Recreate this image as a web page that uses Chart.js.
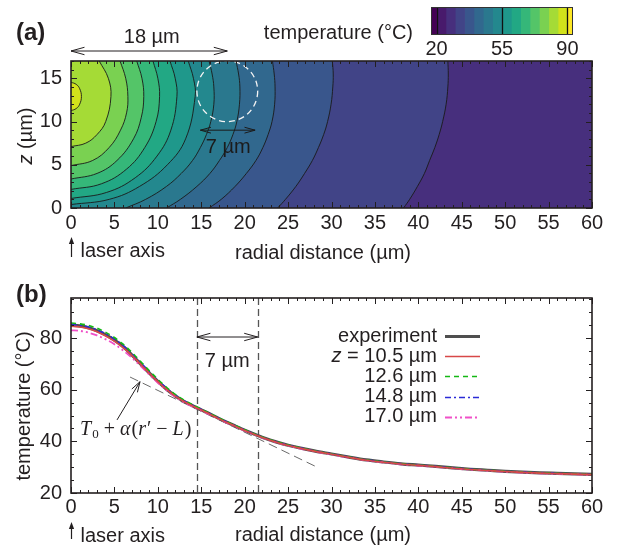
<!DOCTYPE html>
<html>
<head>
<meta charset="utf-8">
<script src="https://cdn.jsdelivr.net/npm/chart.js@4.4.1/dist/chart.umd.min.js"></script>
<style>
  html, body { margin: 0; padding: 0; background: #fff; }
  #wrap { position: relative; width: 621px; height: 552px; }
  canvas { position: absolute; }
  #mapChart  { left: 0; top: 0; }
  #lineChart { left: 0; top: 270px; }
  #barChart  { left: 420px; top: 0; }
</style>
</head>
<body>
<div id="wrap">
  <canvas id="mapChart" width="621" height="270"></canvas>
  <canvas id="lineChart" width="621" height="282"></canvas>
  <canvas id="barChart" width="200" height="62"></canvas>
</div>
<script>
// ── (a) isotherms, [r, z] in µm ────────────────────────────────────────────────
const iso30 = [[38.3,0],[39.0,1],[39.9,2.5],[40.7,4],[41.3,5.5],[41.9,7],[42.4,8.5],[42.8,10],[43.2,12],[43.4,14],[43.45,15.5],[43.4,17]];
const iso35 = [[23.8,0],[24.7,1],[25.9,2.5],[26.9,4],[27.8,5.5],[28.5,7],[29.1,8.5],[29.55,10],[29.95,12],[30.15,14],[30.2,15.5],[30.1,17]];
const iso40 = [[15.9,0],[17.3,1],[18.9,2.5],[20.2,4],[21.3,5.5],[22.1,7],[22.7,8.5],[23.15,10],[23.45,12],[23.5,14],[23.4,15.5],[23.2,17]];
const iso45 = [[11.0,0],[12.6,1],[14.5,2.5],[16.0,4],[17.1,5.5],[18.0,7],[18.65,8.5],[19.1,10],[19.4,12],[19.45,14],[19.3,15.5],[19.0,17]];
const iso50 = [[6.3,0],[8.6,1],[11.0,2.5],[12.7,4],[14.0,5.5],[14.9,7],[15.6,8.5],[16.1,10],[16.45,12],[16.45,14],[16.25,15.5],[15.9,17]];
const iso55 = [[0,0.4],[4.4,1],[7.9,2.5],[11.1,5],[13.2,8],[14.3,12.9],[14.1,15],[13.5,17]];
const iso60 = [[0,1.1],[4.1,1.8],[7.4,3.5],[9.9,6],[11.5,9],[12.2,12.9],[12.0,15],[11.4,17]];
const iso65 = [[0,2.15],[3.5,2.8],[6.4,4.5],[8.5,7],[9.8,10],[10.2,12.9],[10.0,15],[9.44,17]];
const iso70 = [[0,3.35],[3.0,4],[5.3,5.5],[7.2,8],[8.1,10.5],[8.38,12.9],[8.17,15],[7.57,17]];
const iso75 = [[0,4.9],[2.5,5.5],[4.4,7],[5.7,9],[6.4,11],[6.55,12.9],[6.3,15],[5.65,17]];
const iso80 = [[0,7.1],[1.7,7.5],[3.0,8.5],[4.0,10],[4.6,12.9],[4.3,15],[3.25,17]];
const iso85 = [[0,11.25],[0.6,11.5],[1.0,12.0],[1.2,12.9],[1.0,13.8],[0.6,14.3],[0,14.55]];
const isoLevels = [30, 35, 40, 45, 50, 55, 60, 65, 70, 75, 80, 85];
const isoLines  = [iso30, iso35, iso40, iso45, iso50, iso55, iso60, iso65, iso70, iso75, iso80, iso85];
const coolestLevel = 25;

// colour bar: 5 °C bands
const bandLows   = [17, 20, 25, 30, 35, 40, 45, 50, 55, 60, 65, 70, 75, 80, 85, 90];
const bandHighs  = [20, 25, 30, 35, 40, 45, 50, 55, 60, 65, 70, 75, 80, 85, 90, 93];
const bandColors = ['#440154','#481a6c','#472f7d','#414487','#39568c','#31688e','#2a788e','#23888e',
                    '#1f988b','#22a884','#35b779','#54c568','#7ad151','#a5db36','#d2e21b','#fde725'];
const colorbarTicks = [20, 55, 90];

// ── (b) radial temperature profiles ───────────────────────────────────────────
const radial = [0,1,2,3,4,5,6,7,8,9,10,11,12,13,14,15,16,17,18,19,20,21,22,23,24,25,26,
                28,30,32,34,36,38,40,42,44,46,48,50,52,54,56,58,60];
const tExperiment = [85.0,84.7,84.0,82.8,81.2,79.2,76.7,73.5,70.0,66.5,63.2,60.2,57.6,55.5,53.8,52.2,50.6,48.9,47.3,45.8,
                     44.3,42.9,41.6,40.4,39.4,38.5,37.7,36.3,35.1,33.9,32.8,32.0,31.3,30.8,30.3,29.7,29.2,28.8,28.4,28.1,27.8,27.6,27.4,27.2];
const tZ105 = [84.6,84.3,83.6,82.4,80.8,78.8,76.3,73.3,69.9,66.4,63.1,60.1,57.5,55.4,53.7,52.1,50.5,48.8,47.2,45.7,
               44.2,42.8,41.5,40.3,39.3,38.4,37.6,36.2,35.0,33.8,32.7,31.9,31.2,30.7,30.2,29.6,29.1,28.7,28.3,28.0,27.7,27.5,27.3,27.1];
const tZ126 = [85.8,85.5,84.9,83.8,82.2,80.2,77.6,74.5,71.0,67.4,64.0,60.9,58.2,56.0,54.2,52.5,50.8,49.1,47.5,46.0,
               44.5,43.0,41.7,40.5,39.5,38.6,37.8,36.3,35.1,33.9,32.8,32.0,31.3,30.8,30.3,29.7,29.2,28.8,28.4,28.1,27.8,27.6,27.4,27.2];
const tZ148 = [85.2,84.9,84.3,83.2,81.6,79.6,77.1,74.0,70.5,67.0,63.6,60.6,57.9,55.7,53.9,52.3,50.7,49.0,47.4,45.9,
               44.4,43.0,41.6,40.4,39.4,38.5,37.7,36.3,35.1,33.9,32.8,32.0,31.3,30.8,30.3,29.7,29.2,28.8,28.4,28.1,27.8,27.6,27.4,27.2];
const tZ170 = [83.0,82.8,82.1,81.0,79.5,77.6,75.2,72.4,69.2,65.9,62.7,59.8,57.2,55.1,53.4,51.9,50.3,48.7,47.1,45.6,
               44.1,42.7,41.4,40.2,39.2,38.3,37.5,36.1,34.9,33.7,32.6,31.8,31.1,30.6,30.1,29.5,29.0,28.6,28.2,27.9,27.6,27.4,27.2,27.0];
const legendLabels = ['experiment', 'z = 10.5 µm', '12.6 µm', '14.8 µm', '17.0 µm'];
const fitR = [6.8, 28.1];          // linear fit T0 + α(r' − L)
const fitT = [64.9, 30.4];
const markerR = [14.5, 21.5];      // 7 µm window

// ── helpers ───────────────────────────────────────────────────────────────────
const INK   = '#231f20';
const SANS  = '"Liberation Sans", Arial, Helvetica, sans-serif';
const SERIF = '"Liberation Serif", "DejaVu Serif", serif';
const TXT   = `20px ${SANS}`;

function bandColor(level) { return bandColors[bandLows.indexOf(level)]; }
function pts(r, v) { return r.map((x, i) => ({ x, y: v[i] })); }

function say(ctx, str, x, y, font = TXT, align = 'left', color = INK) {
  ctx.save();
  ctx.font = font; ctx.fillStyle = color;
  ctx.textAlign = align; ctx.textBaseline = 'middle';
  ctx.fillText(str, x, y);
  ctx.restore();
}

function openHead(ctx, x, y, angle, len = 13, spread = 0.27) {
  ctx.beginPath();
  ctx.moveTo(x - len * Math.cos(angle - spread), y - len * Math.sin(angle - spread));
  ctx.lineTo(x, y);
  ctx.lineTo(x - len * Math.cos(angle + spread), y - len * Math.sin(angle + spread));
  ctx.stroke();
}

function doubleArrow(ctx, x1, x2, y, len, color = INK) {
  ctx.save();
  ctx.strokeStyle = color; ctx.lineWidth = 1;
  ctx.beginPath(); ctx.moveTo(x1, y); ctx.lineTo(x2, y); ctx.stroke();
  openHead(ctx, x2, y, 0, len);
  openHead(ctx, x1, y, Math.PI, len);
  ctx.restore();
}

function verticalTitle(ctx, parts, cx, cy) {
  ctx.save();
  ctx.translate(cx, cy); ctx.rotate(-Math.PI / 2);
  ctx.fillStyle = INK; ctx.textBaseline = 'middle'; ctx.textAlign = 'left';
  let total = 0;
  parts.forEach(p => { ctx.font = p[1]; total += ctx.measureText(p[0]).width; });
  let x = -total / 2;
  parts.forEach(p => { ctx.font = p[1]; ctx.fillText(p[0], x, 0); x += ctx.measureText(p[0]).width; });
  ctx.restore();
}

function laserAxis(chart, yTip, yBase, textY) {
  const { ctx, scales: { x } } = chart;
  const px = Math.round(x.getPixelForValue(0)) + 0.5;
  ctx.save();
  ctx.strokeStyle = INK; ctx.fillStyle = INK; ctx.lineWidth = 1.2;
  ctx.beginPath(); ctx.moveTo(px, yBase); ctx.lineTo(px, yTip + 5); ctx.stroke();
  ctx.beginPath(); ctx.moveTo(px, yTip); ctx.lineTo(px - 2.6, yTip + 7); ctx.lineTo(px + 2.6, yTip + 7);
  ctx.closePath(); ctx.fill();
  ctx.restore();
  say(ctx, 'laser axis', px + 9, textY);
}

function isMajor(v, step) { return Math.abs(v / step - Math.round(v / step)) < 1e-6; }

// inward ticks on all four sides, then the frame
function frameAndTicks(chart, xMinor, xMajor, yMinor, yMajor) {
  const { ctx, chartArea: a, scales: { x, y } } = chart;
  ctx.save();
  ctx.strokeStyle = INK; ctx.lineWidth = 1;
  ctx.beginPath();
  for (let v = x.min; v <= x.max + 1e-6; v += xMinor) {
    const px = Math.round(x.getPixelForValue(v)) + 0.5;
    const len = isMajor(v, xMajor) ? 6 : 3;
    ctx.moveTo(px, a.bottom); ctx.lineTo(px, a.bottom - len);
    ctx.moveTo(px, a.top);    ctx.lineTo(px, a.top + len);
  }
  for (let v = y.min; v <= y.max + 1e-6; v += yMinor) {
    const py = Math.round(y.getPixelForValue(v)) + 0.5;
    const len = isMajor(v, yMajor) ? 6 : 3;
    ctx.moveTo(a.left, py);  ctx.lineTo(a.left + len, py);
    ctx.moveTo(a.right, py); ctx.lineTo(a.right - len, py);
  }
  ctx.stroke();
  ctx.lineWidth = 1.6;
  ctx.strokeRect(a.left, a.top, a.width, a.height);
  ctx.restore();
}

Chart.defaults.font.family = SANS;
Chart.defaults.color = INK;

const tickFont = { size: 20, family: SANS };

// ── (a) temperature map ───────────────────────────────────────────────────────

const isothermFill = {
  id: 'isothermFill',
  beforeDatasetsDraw(chart) {
    const { ctx, chartArea: a, scales: { x, y } } = chart;
    ctx.save();
    ctx.beginPath(); ctx.rect(a.left, a.top, a.width, a.height); ctx.clip();
    ctx.fillStyle = bandColor(coolestLevel);
    ctx.fillRect(a.left, a.top, a.width, a.height);
    chart.data.datasets.forEach((ds, i) => {
      const line = chart.getDatasetMeta(i).dataset;
      line.updateControlPoints(a, 'x');
      const first = ds.data[0], last = ds.data[ds.data.length - 1];
      ctx.beginPath();
      line.path(ctx);
      ctx.lineTo(x.getPixelForValue(0), y.getPixelForValue(last.y));
      ctx.lineTo(x.getPixelForValue(0), y.getPixelForValue(first.y));
      ctx.closePath();
      ctx.fillStyle = bandColor(ds.level);
      ctx.fill();
    });
    ctx.restore();
  },
  afterDatasetsDraw(chart) {
    const { ctx, scales: { x, y } } = chart;
    // probe spot, 7 µm across
    const cx = x.getPixelForValue(18.0), cy = y.getPixelForValue(13.5);
    ctx.save();
    ctx.strokeStyle = '#f4f4f4'; ctx.lineWidth = 1.3; ctx.setLineDash([6, 4]);
    ctx.beginPath(); ctx.arc(cx, cy, x.getPixelForValue(21.5) - cx, 0, Math.PI * 2); ctx.stroke();
    ctx.restore();
    doubleArrow(ctx, x.getPixelForValue(14.9), x.getPixelForValue(21.2), y.getPixelForValue(9.0), 11, '#1b1b1b');
    say(ctx, '7 µm', x.getPixelForValue(18.1), y.getPixelForValue(7.0), TXT, 'center', '#1b1b1b');
  },
  afterDraw(chart) {
    const { ctx, chartArea: a, scales: { x } } = chart;
    frameAndTicks(chart, 1, 5, 1, 5);
    say(ctx, '(a)', 16, 33, `bold 24px ${SANS}`);
    doubleArrow(ctx, x.getPixelForValue(0), x.getPixelForValue(18), a.top - 10, 14);
    say(ctx, '18 µm', x.getPixelForValue(9.3), 37, TXT, 'center');
    say(ctx, 'temperature (°C)', 413, 33, TXT, 'right');
    verticalTitle(ctx, [['z', `italic 20px ${SANS}`], [' (µm)', TXT]], 26, 136);
    say(ctx, 'radial distance (µm)', 323, 253, TXT, 'center');
    laserAxis(chart, 237, 257, 251.5);
  }
};

new Chart(document.getElementById('mapChart'), {
  type: 'line',
  data: {
    datasets: isoLines.map((line, i) => ({
      level: isoLevels[i],
      data: line.map(p => ({ x: p[0], y: p[1] })),
      borderColor: '#1a1a1a',
      borderWidth: 0.9,
      tension: 0.4,
      pointRadius: 0,
      fill: false
    }))
  },
  options: {
    responsive: false, animation: false, devicePixelRatio: 1,
    layout: { padding: { left: 0, right: 29, top: 61, bottom: 0 } },
    plugins: { legend: { display: false }, tooltip: { enabled: false } },
    scales: {
      x: {
        type: 'linear', min: 0, max: 60,
        grid: { display: false, drawTicks: false }, border: { display: false },
        ticks: { stepSize: 5, font: tickFont, color: INK, padding: 3, maxRotation: 0 },
        afterFit: s => { s.height = 62; }
      },
      y: {
        type: 'linear', min: 0, max: 17,
        grid: { display: false, drawTicks: false }, border: { display: false },
        ticks: { stepSize: 5, includeBounds: false, font: tickFont, color: INK, padding: 9 },
        afterFit: s => { s.width = 71; }
      }
    }
  },
  plugins: [isothermFill]
});

// colour bar
const colorbarLines = {
  id: 'colorbarLines',
  afterDatasetsDraw(chart) {
    const { ctx, chartArea: a, scales: { x } } = chart;
    ctx.save();
    ctx.strokeStyle = '#111'; ctx.lineWidth = 1.3;
    ctx.beginPath();
    colorbarTicks.forEach(v => {
      const px = Math.round(x.getPixelForValue(v)) + 0.5;
      ctx.moveTo(px, a.top); ctx.lineTo(px, a.bottom);
    });
    ctx.stroke();
    ctx.lineWidth = 1; ctx.strokeStyle = '#333';
    ctx.strokeRect(a.left + 0.5, a.top + 0.5, a.width - 1, a.height - 1);
    ctx.restore();
  }
};

new Chart(document.getElementById('barChart'), {
  type: 'bar',
  data: {
    labels: [''],
    datasets: bandLows.map((lo, i) => ({
      data: [[lo, bandHighs[i]]],
      backgroundColor: bandColors[i],
      borderWidth: 0,
      barPercentage: 1, categoryPercentage: 1,
      grouped: false
    }))
  },
  options: {
    indexAxis: 'y', responsive: false, animation: false, devicePixelRatio: 1,
    layout: { padding: { left: 11, right: 47, top: 7, bottom: 0 } },
    plugins: { legend: { display: false }, tooltip: { enabled: false } },
    scales: {
      x: {
        type: 'linear', min: 17, max: 93,
        grid: { display: false, drawTicks: false }, border: { display: false },
        afterBuildTicks: s => { s.ticks = colorbarTicks.map(v => ({ value: v })); },
        ticks: { font: tickFont, color: INK, padding: 2, maxRotation: 0, autoSkip: false },
        afterFit: s => { s.height = 27; }
      },
      y: { display: false }
    }
  },
  plugins: [colorbarLines]
});

// ── (b) radial profiles ───────────────────────────────────────────────────────

function profile(label, values, color, width, dash, order) {
  return {
    label, data: pts(radial, values),
    borderColor: color, borderWidth: width, borderDash: dash,
    pointRadius: 0, cubicInterpolationMode: 'monotone', fill: false, order
  };
}

function drawFormula(ctx, x, base) {
  const it = `italic 20px ${SERIF}`, up = `20px ${SERIF}`, sub = `13px ${SERIF}`;
  const parts = [['T', it, 0], ['0', sub, 3], [' + ', up, 0], ['α', it, 0], ['(', up, 0],
                 ['r', it, 0], ['′', up, 0], [' − ', up, 0], ['L', it, 0], [')', up, 0]];
  ctx.save();
  ctx.fillStyle = INK; ctx.textAlign = 'left'; ctx.textBaseline = 'alphabetic';
  parts.forEach(([s, f, dy]) => {
    ctx.font = f;
    ctx.fillText(s, x, base + dy);
    x += ctx.measureText(s).width + (f === it ? 1 : 0);
  });
  ctx.restore();
}

const profileDecor = {
  id: 'profileDecor',
  beforeDatasetsDraw(chart) {
    const { ctx, chartArea: a, scales: { x } } = chart;
    ctx.save();
    ctx.strokeStyle = '#555'; ctx.lineWidth = 1.3; ctx.setLineDash([7, 4]);
    ctx.beginPath();
    markerR.forEach(r => {
      const px = Math.round(x.getPixelForValue(r)) + 0.5;
      ctx.moveTo(px, a.top); ctx.lineTo(px, a.bottom);
    });
    ctx.stroke();
    ctx.restore();
  },
  afterDraw(chart) {
    const { ctx, scales: { x, y } } = chart;
    frameAndTicks(chart, 1, 5, 5, 20);
    say(ctx, '(b)', 16, 25, `bold 24px ${SANS}`);
    doubleArrow(ctx, x.getPixelForValue(markerR[0]), x.getPixelForValue(markerR[1]), y.getPixelForValue(80.4), 14);
    say(ctx, '7 µm', x.getPixelForValue(18), y.getPixelForValue(70.9), TXT, 'center');

    // pointer from the formula to the fit line
    const tx = x.getPixelForValue(5.3), ty = y.getPixelForValue(48.3);
    const hx = x.getPixelForValue(7.95), hy = y.getPixelForValue(63.1);
    ctx.save();
    ctx.strokeStyle = INK; ctx.lineWidth = 1;
    ctx.beginPath(); ctx.moveTo(tx, ty); ctx.lineTo(hx, hy); ctx.stroke();
    openHead(ctx, hx, hy, Math.atan2(hy - ty, hx - tx), 11, 0.3);
    ctx.restore();
    drawFormula(ctx, x.getPixelForValue(1.05), y.getPixelForValue(44.4) + 5);

    // legend, labels right-aligned before the line samples
    const right = 437, s0 = 445, s1 = 480;
    legendLabels.forEach((lab, i) => {
      const ds = chart.data.datasets[i];
      const ly = 66 + i * 20.2;
      if (lab.startsWith('z ')) {
        const rest = lab.slice(1);
        ctx.save(); ctx.font = TXT; const w = ctx.measureText(rest).width; ctx.restore();
        say(ctx, rest, right, ly, TXT, 'right');
        say(ctx, 'z', right - w, ly, `italic 20px ${SANS}`, 'right');
      } else {
        say(ctx, lab, right, ly, TXT, 'right');
      }
      ctx.save();
      ctx.strokeStyle = ds.borderColor; ctx.lineWidth = ds.borderWidth;
      ctx.setLineDash(ds.borderDash);
      ctx.beginPath(); ctx.moveTo(s0, Math.round(ly) + 0.5); ctx.lineTo(s1, Math.round(ly) + 0.5); ctx.stroke();
      ctx.restore();
    });

    verticalTitle(ctx, [['temperature (°C)', TXT]], 24, 136);
    say(ctx, 'radial distance (µm)', 323, 265, TXT, 'center');
    laserAxis(chart, 252, 269, 266.5);
  }
};

new Chart(document.getElementById('lineChart'), {
  type: 'line',
  data: {
    datasets: [
      profile('experiment',  tExperiment, '#4f4f4f', 3.2, [], 5),
      profile('z = 10.5 µm', tZ105, '#d84848', 1.6, [], 1),
      profile('12.6 µm',     tZ126, '#14b814', 1.6, [5, 4], 2),
      profile('14.8 µm',     tZ148, '#2b2bd6', 1.6, [6, 3, 2, 3], 3),
      profile('17.0 µm',     tZ170, '#f050c8', 1.8, [7, 3, 2, 3, 2, 3], 4),
      { label: 'fit', data: pts(fitR, fitT), borderColor: '#6a6a6a', borderWidth: 1,
        borderDash: [9, 5], pointRadius: 0, fill: false, order: 9 }
    ]
  },
  options: {
    responsive: false, animation: false, devicePixelRatio: 1,
    layout: { padding: { left: 0, right: 29, top: 28, bottom: 0 } },
    plugins: { legend: { display: false }, tooltip: { enabled: false } },
    scales: {
      x: {
        type: 'linear', min: 0, max: 60,
        grid: { display: false, drawTicks: false }, border: { display: false },
        ticks: { stepSize: 5, font: tickFont, color: INK, padding: 2, maxRotation: 0 },
        afterFit: s => { s.height = 59; }
      },
      y: {
        type: 'linear', min: 20, max: 95.5,
        grid: { display: false, drawTicks: false }, border: { display: false },
        ticks: { stepSize: 20, includeBounds: false, font: tickFont, color: INK, padding: 9 },
        afterFit: s => { s.width = 71; }
      }
    }
  },
  plugins: [profileDecor]
});
</script>
</body>
</html>
